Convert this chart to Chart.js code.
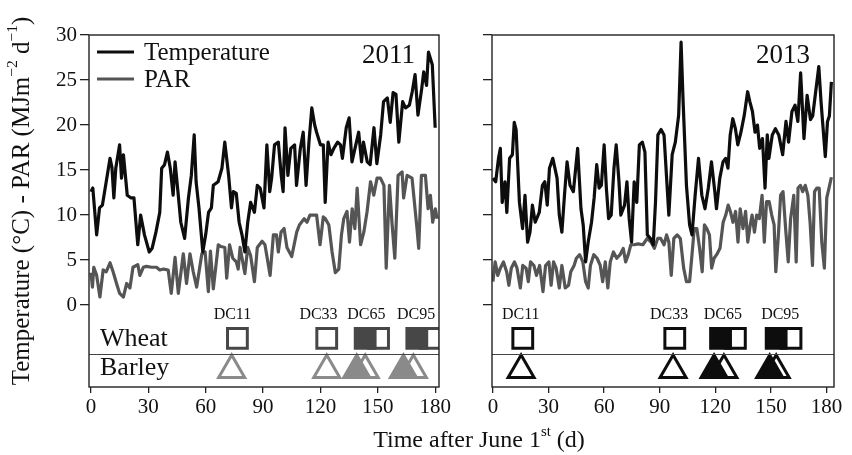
<!DOCTYPE html>
<html>
<head>
<meta charset="utf-8">
<script src="https://cdn.jsdelivr.net/npm/chart.js@4.4.1/dist/chart.umd.min.js"></script>
<style>
  html, body { margin: 0; padding: 0; background: #fff; }
  #wrap { position: relative; width: 852px; height: 455px; }
  canvas { position: absolute; left: 0; top: 0; width: 852px; height: 455px; }
</style>
</head>
<body>
<div id="wrap">
  <canvas id="c2011" width="852" height="455"></canvas>
  <canvas id="c2013" width="852" height="455"></canvas>
</div>
<script>
// ---- data (days after June 1st) ----
const xTicks = [0, 30, 60, 90, 120, 150, 180];
const yTicks = [0, 5, 10, 15, 20, 25, 30];

const days2011T = [0,1,3,4.5,6,8,10,11,12,13,15,16,17,19,21,22.5,24.5,26,28,30.5,32,34,36,37,38.5,40,41.5,43,44,45.5,47,49,51,52.5,54,55,56.5,58.5,60,61.5,63,64,66.5,68.5,70,72,73.5,74.5,76,77.5,79,80.5,82,83.5,85.5,87,88.5,90.5,92,93.5,94.5,96,98,99.5,100.5,101.5,103,104.5,106.5,107.5,109.5,111,112.5,114,115.5,117,118,120,121.5,122.5,124,125.5,127,129,130.5,131.5,133.5,135,136.5,138.5,140,141.5,142.5,144.5,146,148,149.5,151.5,153,155,156.5,158,159.5,161,163,164.5,166.5,168,169.5,171,173,174,175.5,176.5,178.5,180];
const temp2011 = [12.6,13.0,7.8,10.8,11.1,13.7,16.3,15.3,11.9,15.2,17.8,14.1,16.7,12.2,11.9,11.9,6.7,10.0,7.8,5.9,6.3,8.1,10.3,15.2,15.6,17.0,15.2,12.2,15.9,12.6,9.2,7.4,11.9,14.4,18.9,13.7,10.8,5.9,7.8,10.3,10.8,13.3,13.7,15.2,18.1,14.4,10.8,12.6,12.4,9.2,7.8,5.9,9.2,11.4,10.3,13.3,13.0,10.8,17.8,12.6,14.1,17.8,18.1,14.4,12.6,19.7,14.4,17.4,17.8,13.3,17.4,19.2,13.3,18.1,21.9,20.0,19.2,17.8,17.8,11.4,18.1,16.7,17.4,18.1,17.8,16.3,19.7,20.8,15.9,17.8,19.2,15.9,18.1,15.9,15.6,19.7,15.7,18.9,22.6,23.0,20.3,23.6,23.4,18.1,22.6,21.9,22.2,23.7,25.6,21.1,24.1,25.9,24.4,28.1,26.7,19.7];

const days2011P = [0,0.8,1.5,3,4.7,6.4,8,10,11.6,13.4,15,17,18.7,20.4,22,24.5,25.6,27.4,29,31.7,34.3,36,38,40.4,42,44,45.7,48.3,50,51.8,53.5,55.3,58,59.7,61.4,62.5,64,66.6,68,70,71,72.5,74.2,76,77,78,80.5,82,83.5,85.5,87,89.5,91,93.7,95.4,97,98,99.4,101,102.5,105,107.6,109,111.5,113,114.5,116,118,119.8,121.5,122.6,124.4,126.1,127.8,129.6,131,132.2,133.9,135.2,136.6,138,139.2,141,142.7,144.4,146.2,147.9,149.6,151.4,153.2,154.4,156.1,157.5,158.9,160.6,162.7,163.5,165.3,167.9,170.5,171.4,172.8,174.9,176.3,177.5,178.7,180.1,181];
const par2011 = [3.6,2.0,4.2,3.3,0.9,3.9,3.7,4.7,3.7,2.4,1.3,0.9,2.4,1.9,4.2,4.5,3.3,4.2,4.3,4.2,4.2,3.9,4.0,3.9,1.3,5.3,1.3,5.7,2.4,5.7,3.7,2.0,5.7,5.9,1.5,6.0,1.8,6.7,6.5,6.4,3.0,6.7,5.2,4.8,4.0,6.4,3.5,6.4,5.5,2.6,6.4,7.1,6.7,3.3,7.8,7.8,5.9,8.1,8.5,6.4,5.4,8.1,8.9,9.6,9.2,10.0,10.0,10.0,6.7,9.8,9.6,8.9,5.9,3.6,4.0,7.8,9.6,10.4,7.0,10.7,8.5,13.0,6.7,8.1,10.4,13.7,12.2,14.1,14.1,13.3,4.1,13.3,8.9,5.2,14.4,14.8,11.9,14.4,14.1,8.5,6.3,14.4,14.4,10.7,12.2,9.2,10.7,9.6];

const days2013T = [0,1.5,3,4,5,6.5,7.5,9,10.5,11.5,12.5,14.3,16,17.3,18.7,20,21.3,22.8,25,26.7,28,29.3,30.5,32.3,34.6,35.8,37.2,38.6,40,41.6,43.4,45.7,47.5,48.7,50,51.4,53.2,54.6,56,57.3,58.5,60,61.2,62.4,63.8,65.3,66.5,68,69,71,72.3,73.5,74.8,76.2,77.6,79,80.6,82,83.3,85,86.5,87.7,89,90.7,92.3,94.9,96.7,98.4,100.2,101.5,102.6,104.4,106.1,107.4,109.1,110.9,112.7,114.4,116.2,117.9,119.7,120.6,122.4,124.1,125.5,126.8,128,129.4,130.8,132.1,133.8,135.6,137.4,138.6,140,141.4,142.7,143.9,145.4,146.8,148,148.9,150.7,152.4,154.2,156.3,158.1,159.5,161.3,163,164.5,166,167.8,169.5,171.3,172.5,174,175.8,177,179.3,180.5,181.5,182.6];
const temp2013 = [14.1,13.7,16.3,17.4,11.4,13.7,10.3,16.3,16.7,20.3,19.5,11.4,8.5,12.2,7.0,8.1,11.1,9.2,10.3,13.3,13.7,11.1,15.2,16.3,14.1,10.0,8.1,12.2,15.9,13.3,12.6,17.4,10.7,8.9,4.8,7.0,9.2,11.9,15.6,13.0,13.3,17.8,13.0,9.6,10.0,15.2,17.8,13.7,10.0,11.1,13.7,9.6,7.0,13.7,11.4,17.8,18.1,17.0,7.8,7.4,6.7,11.4,18.9,19.5,18.9,10.0,16.7,18.1,21.1,29.2,22.6,13.3,8.9,7.8,12.2,16.3,12.2,10.7,13.0,15.9,12.6,10.7,14.1,15.9,16.3,15.2,18.9,20.7,19.6,17.8,19.2,21.1,23.7,22.6,21.5,19.2,20.0,17.4,18.5,13.0,18.9,16.3,18.9,19.6,18.9,16.7,20.4,18.1,21.5,22.2,20.4,25.8,18.5,23.3,20.6,21.0,23.5,26.5,22.6,16.5,20.4,21.0,24.8];

const days2013P = [0,1.2,2.6,4,5.7,7.4,8.6,9.9,11.6,13,14.8,16.1,17.9,19.1,20.3,22.1,23.5,25.2,27,28.4,30.2,31.4,32.7,34.1,35.8,37.2,39,40.8,42,43.8,45,46.8,48.5,50,51.4,52.6,54.4,56.2,57.9,59.2,60.6,62,63.3,65,66.8,68.6,70.3,71.6,73,74.4,76.2,78.3,80.9,83.2,85.3,87.1,88.9,90.5,92.3,93.7,94.9,96.2,97.6,99.4,101.1,102.9,104.4,106.1,107.4,108.6,110,111.5,112.9,114.1,115.4,116.8,118,119.3,120.7,122.5,124.2,125.6,126.9,128.1,129.5,130.9,132.2,133.4,134.9,136.3,137.5,138.8,139.8,141.1,142.3,143.7,145.2,146.4,147.6,149,150.4,151.7,152.6,154,155.2,156.5,157.9,159.3,160.6,162.3,163.6,164.6,165.9,167.1,168.5,169.9,171.1,172.4,173.5,174.7,176,177.4,178.8,180.1,181.3,182.6];
const par2013 = [2.6,4.8,3.3,4.1,4.8,3.7,2.2,4.1,4.8,4.1,1.9,4.4,4.1,2.6,4.8,4.4,3.3,4.4,1.5,4.4,4.8,2.2,4.8,4.1,1.9,4.4,1.9,2.2,3.7,4.4,5.2,5.6,4.8,2.6,1.9,4.4,5.6,5.2,4.4,2.6,4.8,1.9,4.8,5.9,5.2,5.6,6.3,4.8,5.6,6.7,6.7,6.8,6.7,7.4,7.0,6.3,7.4,7.4,6.7,7.8,7.0,3.3,7.4,7.8,7.4,4.1,2.6,2.6,5.6,8.5,8.5,6.3,3.7,8.9,8.5,7.8,4.1,5.2,5.6,6.3,9.2,10.0,11.1,10.4,9.2,10.4,7.0,10.7,8.5,10.4,7.0,8.9,10.0,8.1,10.0,9.6,12.2,7.0,11.5,11.5,10.0,8.9,3.7,7.8,12.2,12.6,8.5,4.8,9.6,12.2,4.8,13.0,13.3,12.6,13.3,12.2,9.2,4.4,12.6,13.0,13.0,7.0,4.1,11.9,13.0,14.2];

// growth stages (DC = decimal code)
const dcLabels = ['DC11', 'DC33', 'DC65', 'DC95'];
const dcLabelDays2011 = [74, 119, 144, 170];
const dcLabelDays2013 = [15, 95, 124, 155];
const wheatOpen2011 = [76.6, 123.3, 150.4, 177.4];
const wheatFilled2011 = [143.4, 170.4];
const barleyOpen2011 = [73.6, 123.3, 143.4, 168.6];
const barleyFilled2011 = [139, 163.4];
const wheatOpen2013 = [16.1, 98.1, 130.8, 160.8];
const wheatFilled2013 = [122.8, 152.8];
const barleyOpen2013 = [15.2, 97.2, 124.6, 152.8];
const barleyFilled2013 = [119.3, 149.3];

const dcRow = -1.1;
const wheatRow = -3.7;
const rowDivider = -5.45;
const barleyRow = -7.2;

// ---- drawing ----
const FONT = "'Liberation Serif', 'Times New Roman', serif";
const INK = '#111';

function pts(xs, ys) { return xs.map((x, i) => ({ x: x, y: ys[i] })); }
function row(xs, y) { return xs.map(x => ({ x: x, y: y })); }

function drawRich(ctx, parts, x, y, size) {
    const small = size * 0.62;
    let w = 0;
    parts.forEach(p => {
        ctx.font = (p.sup ? small : size) + 'px ' + FONT;
        w += ctx.measureText(p.t).width;
    });
    let cx = x - w / 2;
    ctx.textAlign = 'left';
    ctx.textBaseline = 'middle';
    parts.forEach(p => {
        ctx.font = (p.sup ? small : size) + 'px ' + FONT;
        ctx.fillText(p.t, cx, p.sup ? y - size * 0.36 : y);
        cx += ctx.measureText(p.t).width;
    });
}

function panel(id, cfg) {
    const deco = {
        id: 'deco',
        afterDraw(chart) {
            const ctx = chart.ctx;
            const a = chart.chartArea;
            const xs = chart.scales.x, ys = chart.scales.y;
            ctx.save();
            // separator between wheat and barley rows
            ctx.strokeStyle = '#444';
            ctx.lineWidth = 1;
            const yd = Math.round(ys.getPixelForValue(rowDivider)) + 0.5;
            ctx.beginPath();
            ctx.moveTo(a.left, yd);
            ctx.lineTo(a.right, yd);
            ctx.stroke();
            // frame
            ctx.strokeStyle = '#222';
            ctx.lineWidth = 1.4;
            ctx.strokeRect(a.left, a.top, a.right - a.left, a.bottom - a.top);
            // DC labels
            ctx.fillStyle = INK;
            ctx.font = '16px ' + FONT;
            ctx.textAlign = 'center';
            ctx.textBaseline = 'middle';
            dcLabels.forEach((t, i) => {
                ctx.fillText(t, xs.getPixelForValue(cfg.dcDays[i]), ys.getPixelForValue(dcRow));
            });
            // year
            ctx.font = '27px ' + FONT;
            ctx.textAlign = 'right';
            ctx.fillText(cfg.year, a.right - 24, a.top + 21);
            if (cfg.main) {
                // legend
                ctx.lineWidth = 3;
                [['Temperature', '#0d0d0d', 52], ['PAR', '#555', 79]].forEach(l => {
                    ctx.strokeStyle = l[1];
                    ctx.beginPath();
                    ctx.moveTo(a.left + 8, l[2]);
                    ctx.lineTo(a.left + 45, l[2]);
                    ctx.stroke();
                    ctx.font = '25px ' + FONT;
                    ctx.textAlign = 'left';
                    ctx.fillText(l[0], a.left + 55, l[2] + 1);
                });
                // crop rows
                ctx.font = '26px ' + FONT;
                ctx.fillText('Wheat', a.left + 11, ys.getPixelForValue(wheatRow) + 1);
                ctx.fillText('Barley', a.left + 11, ys.getPixelForValue(barleyRow) - 2);
                // axis titles
                ctx.save();
                ctx.translate(22, 201);
                ctx.rotate(-Math.PI / 2);
                drawRich(ctx, [
                    { t: 'Temperature (\u00B0C) - PAR (MJm' }, { t: '\u22122', sup: true },
                    { t: ' d' }, { t: '\u22121', sup: true }, { t: ')' }
                ], 0, 0, 25);
                ctx.restore();
                drawRich(ctx, [{ t: 'Time after June 1' }, { t: 'st', sup: true }, { t: ' (d)' }], 479, 441, 24);
            }
            ctx.restore();
        }
    };

    const line = (data, color, order) => ({
        data: data, showLine: true, borderColor: color, borderWidth: 3.2,
        pointRadius: 0, tension: 0, borderJoinStyle: 'round', order: order
    });
    const marks = (data, style, r, color, filled, order) => ({
        data: data, showLine: false, pointStyle: style, pointRadius: r,
        pointBorderWidth: 3, borderColor: color, pointBorderColor: color,
        pointBackgroundColor: filled ? color : 'rgba(0,0,0,0)', order: order
    });

    return new Chart(document.getElementById(id), {
        type: 'scatter',
        data: {
            datasets: [
                line(pts(cfg.tDays, cfg.temp), '#0d0d0d', 1),
                line(pts(cfg.pDays, cfg.par), '#555', 2),
                marks(row(cfg.wheatOpen, wheatRow), 'rect', 14, cfg.squareColor, false, 3),
                marks(row(cfg.barleyOpen, barleyRow), 'triangle', 15, cfg.triColor, false, 3),
                marks(row(cfg.wheatFilled, wheatRow), 'rect', 14, cfg.squareColor, true, 4),
                marks(row(cfg.barleyFilled, barleyRow), 'triangle', 15, cfg.triColor, true, 4)
            ]
        },
        options: {
            responsive: false,
            animation: false,
            events: [],
            layout: { padding: cfg.padding },
            plugins: { legend: { display: false }, tooltip: { enabled: false } },
            scales: {
                x: {
                    type: 'linear', min: cfg.xMin, max: cfg.xMax,
                    afterBuildTicks: s => { s.ticks = xTicks.map(v => ({ value: v })); },
                    afterFit: s => { s.height = 68; },
                    border: { display: false },
                    grid: { drawOnChartArea: false, tickLength: 6, color: '#222', lineWidth: 1.3 },
                    ticks: { font: { family: FONT, size: 21 }, color: INK, padding: 2, maxRotation: 0, autoSkip: false }
                },
                y: {
                    type: 'linear', min: -9.1, max: 30,
                    afterBuildTicks: s => { s.ticks = yTicks.map(v => ({ value: v })); },
                    afterFit: s => { s.width = cfg.yWidth; },
                    border: { display: false },
                    grid: { drawOnChartArea: false, tickLength: 9, color: '#222', lineWidth: 1.3 },
                    ticks: { display: cfg.main, font: { family: FONT, size: 21 }, color: INK, padding: 3 }
                }
            }
        },
        plugins: [deco]
    });
}

panel('c2011', {
    main: true, year: '2011',
    tDays: days2011T, temp: temp2011, pDays: days2011P, par: par2011,
    wheatOpen: wheatOpen2011, wheatFilled: wheatFilled2011,
    barleyOpen: barleyOpen2011, barleyFilled: barleyFilled2011,
    dcDays: dcLabelDays2011,
    squareColor: '#474747', triColor: '#8a8a8a',
    xMin: -1, xMax: 182, yWidth: 89,
    padding: { left: 0, right: 413, top: 35, bottom: 0 }
});

panel('c2013', {
    main: false, year: '2013',
    tDays: days2013T, temp: temp2013, pDays: days2013P, par: par2013,
    wheatOpen: wheatOpen2013, wheatFilled: wheatFilled2013,
    barleyOpen: barleyOpen2013, barleyFilled: barleyFilled2013,
    dcDays: dcLabelDays2013,
    squareColor: '#0d0d0d', triColor: '#0d0d0d',
    xMin: -0.5, xMax: 184, yWidth: 44,
    padding: { left: 448, right: 11, top: 35, bottom: 0 }
});
</script>
</body>
</html>
